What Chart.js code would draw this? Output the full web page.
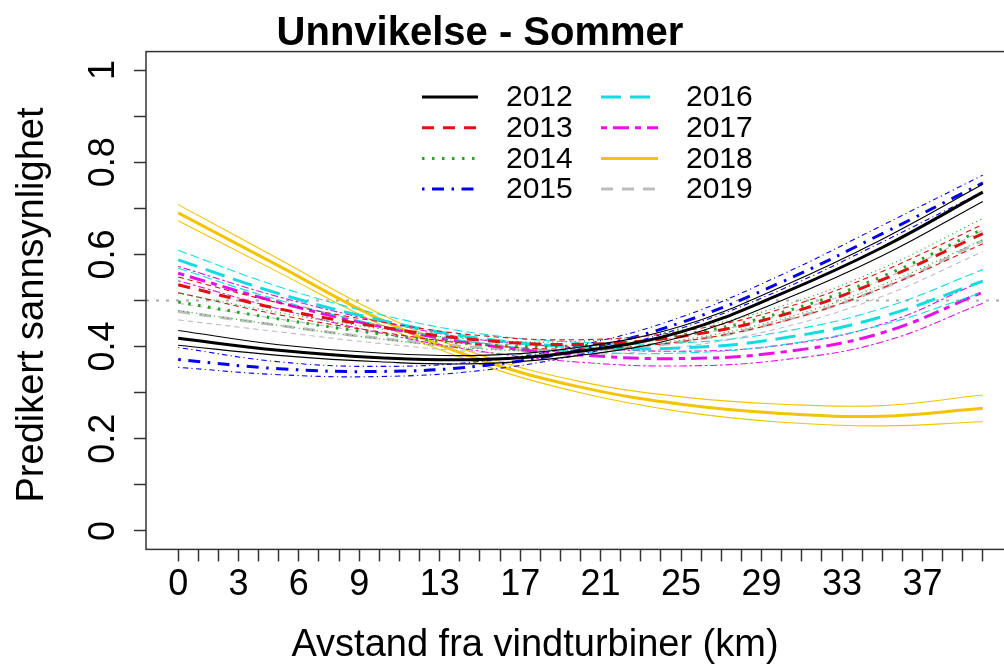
<!DOCTYPE html>
<html>
<head>
<meta charset="utf-8">
<title>Unnvikelse - Sommer</title>
<script src="https://cdn.jsdelivr.net/npm/chart.js@4.4.1/dist/chart.umd.min.js"></script>
<style>
  html, body { margin:0; padding:0; background:#fff; overflow:hidden; }
  #wrap { position:absolute; left:0; top:0; width:1020px; height:668px; }
</style>
</head>
<body>
<div id="wrap"><canvas id="chart" width="1020" height="668"></canvas></div>
<script>
// Avstand (km) og år
const distances = [0, 5, 10, 15, 20, 25, 30, 35, 40];
const years = ['2012', '2013', '2014', '2015', '2016', '2017', '2018', '2019'];

// Predikert sannsynlighet, med nedre/øvre grense
const fit2012 = [0.418, 0.392, 0.376, 0.372, 0.390, 0.432, 0.515, 0.615, 0.735];
const low2012 = [0.403, 0.381, 0.367, 0.363, 0.381, 0.421, 0.500, 0.597, 0.715];
const upp2012 = [0.435, 0.404, 0.386, 0.381, 0.399, 0.444, 0.530, 0.633, 0.752];

const fit2013 = [0.534, 0.482, 0.443, 0.414, 0.405, 0.422, 0.468, 0.545, 0.645];
const low2013 = [0.517, 0.469, 0.432, 0.404, 0.395, 0.411, 0.454, 0.527, 0.623];
const upp2013 = [0.551, 0.495, 0.454, 0.424, 0.415, 0.433, 0.482, 0.563, 0.665];

const fit2014 = [0.497, 0.460, 0.428, 0.405, 0.402, 0.425, 0.474, 0.552, 0.655];
const low2014 = [0.478, 0.446, 0.417, 0.395, 0.392, 0.414, 0.460, 0.534, 0.632];
const upp2014 = [0.516, 0.474, 0.439, 0.415, 0.412, 0.436, 0.488, 0.570, 0.678];

const fit2015 = [0.372, 0.352, 0.346, 0.358, 0.393, 0.452, 0.540, 0.645, 0.755];
const low2015 = [0.355, 0.339, 0.335, 0.348, 0.383, 0.440, 0.524, 0.627, 0.736];
const upp2015 = [0.398, 0.367, 0.357, 0.368, 0.403, 0.464, 0.556, 0.663, 0.772];

const fit2016 = [0.588, 0.515, 0.458, 0.418, 0.399, 0.397, 0.418, 0.465, 0.542];
const low2016 = [0.570, 0.501, 0.447, 0.408, 0.389, 0.386, 0.404, 0.447, 0.518];
const upp2016 = [0.609, 0.530, 0.470, 0.428, 0.409, 0.408, 0.432, 0.483, 0.567];

const fit2017 = [0.559, 0.496, 0.444, 0.405, 0.382, 0.374, 0.388, 0.430, 0.518];
const low2017 = [0.543, 0.482, 0.430, 0.390, 0.366, 0.358, 0.371, 0.410, 0.494];
const upp2017 = [0.574, 0.508, 0.455, 0.415, 0.398, 0.390, 0.403, 0.449, 0.543];

const fit2018 = [0.690, 0.575, 0.460, 0.372, 0.312, 0.275, 0.255, 0.249, 0.266];
const low2018 = [0.673, 0.561, 0.449, 0.362, 0.300, 0.259, 0.236, 0.228, 0.237];
const upp2018 = [0.708, 0.590, 0.472, 0.382, 0.324, 0.291, 0.275, 0.272, 0.295];

const fit2019 = [0.476, 0.446, 0.418, 0.398, 0.392, 0.410, 0.455, 0.527, 0.630];
const low2019 = [0.458, 0.432, 0.407, 0.388, 0.382, 0.399, 0.441, 0.509, 0.606];
const upp2019 = [0.494, 0.460, 0.429, 0.408, 0.402, 0.421, 0.469, 0.545, 0.652];

// akser
const xTickLabels = [0, 3, 6, 9, 13, 17, 21, 25, 29, 33, 37];
const yTickValues = [0, 0.1, 0.2, 0.3, 0.4, 0.5, 0.6, 0.7, 0.8, 0.9, 1];
const yTickLabels = ['0', '0.2', '0.4', '0.6', '0.8', '1'];
const refLine = 0.5;

const fits = [fit2012, fit2013, fit2014, fit2015, fit2016, fit2017, fit2018, fit2019];
const lows = [low2012, low2013, low2014, low2015, low2016, low2017, low2018, low2019];
const upps = [upp2012, upp2013, upp2014, upp2015, upp2016, upp2017, upp2018, upp2019];

// stil (R: lty 1..6)
const colors = ['#000000', '#E01010', '#20A820', '#0000F0', '#10DEDE', '#E810E8', '#F2C500', '#BDBDBD'];
const dashes = [[], [12, 9], [2.5, 7.5], [2.5, 7.5, 12, 7.5], [20, 9], [6, 6, 16, 6], [], [12, 9]];
const thin = d => d.map(v => v * 0.45);

const FONT = "'Liberation Sans', Arial, sans-serif";
const pts = arr => distances.map((d, i) => ({x: d, y: arr[i]}));

const datasets = [];
years.forEach((yr, i) => {
  datasets.push({label: yr, data: pts(fits[i]), borderColor: colors[i], borderWidth: 3, borderDash: dashes[i]});
  datasets.push({label: yr + ' lav', data: pts(lows[i]), borderColor: colors[i], borderWidth: 1.1, borderDash: thin(dashes[i])});
  datasets.push({label: yr + ' høy', data: pts(upps[i]), borderColor: colors[i], borderWidth: 1.1, borderDash: thin(dashes[i])});
});

const decor = {
  id: 'decor',
  beforeDatasetsDraw(chart) {
    const {ctx, chartArea: a, scales: {y}} = chart;
    const py = y.getPixelForValue(refLine);
    ctx.save();
    ctx.strokeStyle = '#AAAAAA';
    ctx.lineWidth = 2;
    ctx.setLineDash([3, 7]);
    ctx.beginPath(); ctx.moveTo(a.left, py); ctx.lineTo(a.right, py); ctx.stroke();
    ctx.restore();
  },
  afterDraw(chart) {
    const {ctx, chartArea: a, scales: {y}} = chart;
    ctx.save();
    // ramme
    ctx.strokeStyle = '#333';
    ctx.lineWidth = 1.5;
    ctx.strokeRect(a.left, a.top, a.right - a.left, a.bottom - a.top);

    ctx.fillStyle = '#000';
    // y-etiketter, rotert som i R
    ctx.font = '36px ' + FONT;
    ctx.textAlign = 'center';
    ctx.textBaseline = 'middle';
    yTickLabels.forEach(lab => {
      ctx.save();
      ctx.translate(104, y.getPixelForValue(parseFloat(lab)));
      ctx.rotate(-Math.PI / 2);
      ctx.fillText(lab, 0, 0);
      ctx.restore();
    });

    // y-tittel
    ctx.font = '38px ' + FONT;
    ctx.save();
    ctx.translate(33, 305);
    ctx.rotate(-Math.PI / 2);
    ctx.fillText('Predikert sannsynlighet', 0, 0);
    ctx.restore();

    // x-tittel
    ctx.textBaseline = 'alphabetic';
    ctx.fillText('Avstand fra vindturbiner (km)', 535, 656);

    // hovedtittel
    ctx.font = 'bold 40px ' + FONT;
    ctx.fillText('Unnvikelse - Sommer', 480, 45);

    // legende
    ctx.font = '30px ' + FONT;
    ctx.textAlign = 'left';
    ctx.textBaseline = 'middle';
    years.forEach((yr, i) => {
      const col = Math.floor(i / 4), row = i % 4;
      const ly = 97 + row * 30.7;
      const x0 = col ? 601 : 422, x1 = col ? 658 : 478;
      ctx.strokeStyle = colors[i];
      ctx.lineWidth = 3;
      ctx.setLineDash(dashes[i]);
      ctx.beginPath(); ctx.moveTo(x0, ly); ctx.lineTo(x1, ly); ctx.stroke();
      ctx.setLineDash([]);
      ctx.fillStyle = '#000';
      ctx.fillText(yr, col ? 686 : 506, ly + 1);
    });
    ctx.restore();
  }
};

new Chart(document.getElementById('chart'), {
  type: 'line',
  data: {datasets},
  options: {
    responsive: false,
    animation: false,
    devicePixelRatio: 1,
    layout: {padding: {top: 51.6, left: 0, right: 5, bottom: 0}},
    elements: {
      line: {tension: 0.4, fill: false, borderCapStyle: 'butt'},
      point: {radius: 0}
    },
    plugins: {legend: {display: false}, title: {display: false}, tooltip: {enabled: false}},
    scales: {
      x: {
        type: 'linear', min: -1.6, max: 41.6,
        afterBuildTicks: s => { s.ticks = Array.from({length: 41}, (_, i) => ({value: i})); },
        afterFit: s => { s.height = 668 - 549.4; },
        grid: {drawOnChartArea: false, drawTicks: true, tickLength: 12, tickColor: '#333', tickWidth: 1.5},
        border: {display: false},
        ticks: {
          autoSkip: false, maxRotation: 0, padding: 2, color: '#000',
          font: {family: FONT, size: 36},
          callback: v => xTickLabels.includes(v) ? String(v) : ''
        }
      },
      y: {
        type: 'linear', min: -0.04, max: 1.04,
        afterBuildTicks: s => { s.ticks = yTickValues.map(v => ({value: v})); },
        afterFit: s => { s.width = 146; },
        grid: {drawOnChartArea: false, drawTicks: true, tickLength: 12, tickColor: '#333', tickWidth: 1.5},
        border: {display: false},
        ticks: {display: false}
      }
    }
  },
  plugins: [decor]
});
</script>
</body>
</html>
